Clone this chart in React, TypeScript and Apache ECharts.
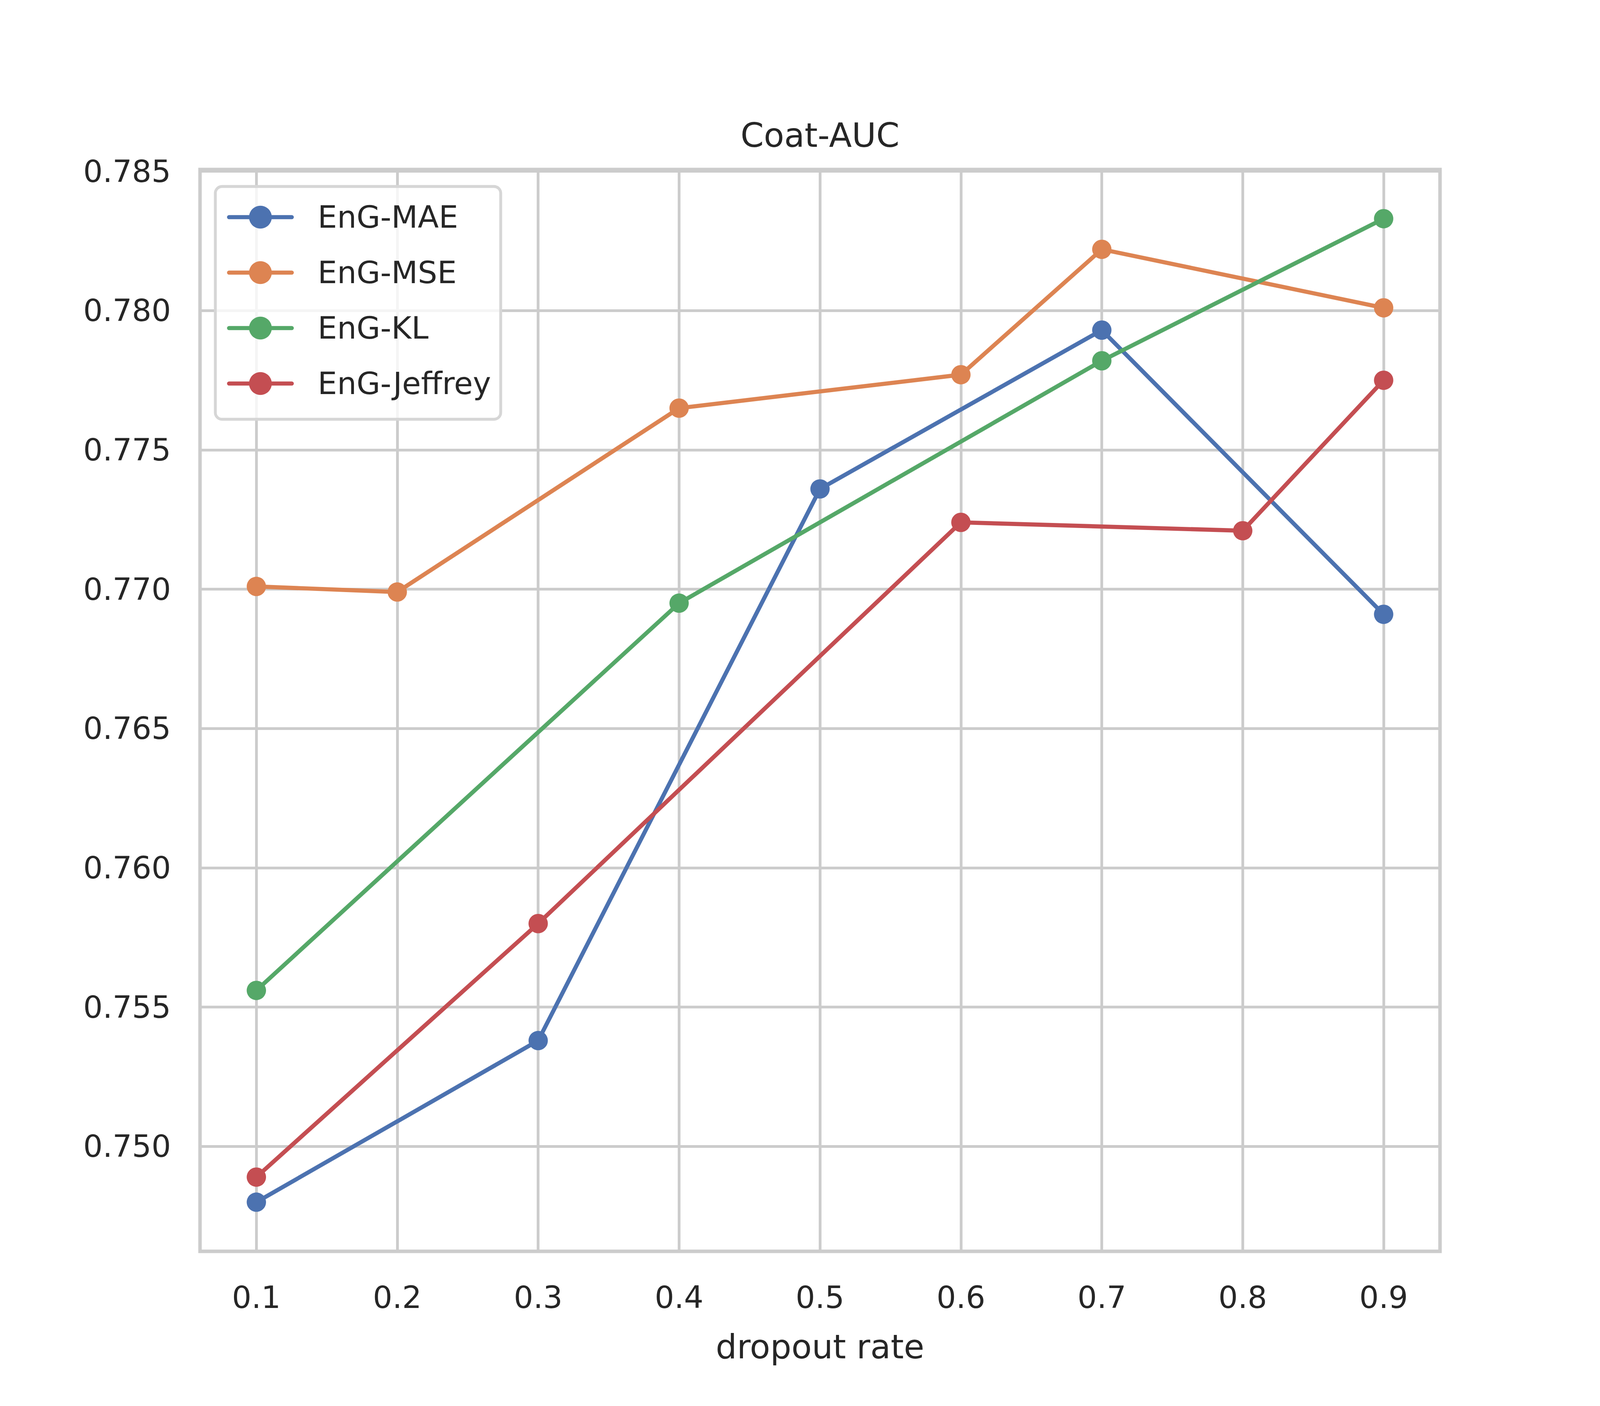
import React, { useEffect, useRef } from "react";
import * as echarts from "echarts";

const FONT = "DejaVu Sans";
const TEXT = "#262626";
const GRIDC = "#cccccc";

const seriesNames = ["EnG-MAE", "EnG-MSE", "EnG-KL", "EnG-Jeffrey"];
const colors = ["#4C72B0", "#DD8452", "#55A868", "#C44E52"];

const maeX = [0.1, 0.3, 0.5, 0.7, 0.9];
const maeY = [0.748, 0.7538, 0.7736, 0.7793, 0.7691];
const mseX = [0.1, 0.2, 0.4, 0.6, 0.7, 0.9];
const mseY = [0.7701, 0.7699, 0.7765, 0.7777, 0.7822, 0.7801];
const klX = [0.1, 0.4, 0.7, 0.9];
const klY = [0.7556, 0.7695, 0.7782, 0.7833];
const jefX = [0.1, 0.3, 0.6, 0.8, 0.9];
const jefY = [0.7489, 0.758, 0.7724, 0.7721, 0.7775];

const xs = [maeX, mseX, klX, jefX];
const ys = [maeY, mseY, klY, jefY];

const X_MIN = 0.06;
const X_MAX = 0.94;
const Y_MIN = 0.746235;
const Y_MAX = 0.785065;

export default function App() {
  const ref = useRef<HTMLDivElement>(null);
  useEffect(() => {
    const el = ref.current;
    if (!el) return;
    const w = el.clientWidth || window.innerWidth;
    const h = el.clientHeight || window.innerHeight;
    const sx = w / 4800;
    const sy = h / 3600;
    const s = Math.min(sx, sy);
    const px = (v: number) => v * sx;
    const py = (v: number) => v * sy;
    const p = (v: number) => v * s;
    const chart = echarts.init(el, null, { renderer: "svg" });
    const series = seriesNames.map((name, i) => ({
      name,
      type: "line",
      data: xs[i].map((x, k) => [x, ys[i][k]]),
      symbol: "circle",
      symbolSize: p(58),
      lineStyle: { color: colors[i], width: p(12.5), cap: "round", join: "round" },
      itemStyle: { color: colors[i], borderWidth: 0 },
      emphasis: { disabled: true },
    }));
    const itemH = py(73);
    chart.setOption({
      animation: false,
      backgroundColor: "#ffffff",
      textStyle: { fontFamily: FONT },
      title: {
        text: "Coat-AUC",
        left: px(2460),
        top: py(346) - p(50),
        padding: 0,
        textAlign: "center",
        textStyle: {
          fontFamily: FONT,
          fontSize: p(100),
          lineHeight: p(100),
          fontWeight: "normal",
          color: TEXT,
        },
      },
      grid: {
        left: px(600),
        top: py(434),
        width: px(3720),
        height: py(2770),
        show: true,
        borderColor: GRIDC,
        borderWidth: p(10.4),
        backgroundColor: "transparent",
      },
      legend: {
        orient: "vertical",
        left: px(646),
        top: py(477.5),
        padding: [py(39), px(29), py(52), px(35)],
        itemWidth: px(188),
        itemHeight: itemH,
        itemGap: py(136) - itemH,
        backgroundColor: "rgba(255,255,255,0.8)",
        borderColor: "#d6d6d6",
        borderWidth: p(8.5),
        borderRadius: p(20),
        lineStyle: { width: p(12.5), cap: "round" },
        textStyle: {
          fontFamily: FONT,
          fontSize: p(92),
          lineHeight: itemH,
          color: TEXT,
          padding: [0, 0, 0, px(72)],
        },
        data: seriesNames,
      },
      xAxis: {
        type: "value",
        min: X_MIN,
        max: X_MAX,
        splitNumber: 9,
        minInterval: 0.1,
        maxInterval: 0.1,
        axisLine: { show: false },
        axisTick: { show: false },
        splitLine: { show: true, lineStyle: { color: GRIDC, width: p(8.3) } },
        axisLabel: {
          formatter: (v: number) => v.toFixed(1),
          fontFamily: FONT,
          fontSize: p(92),
          lineHeight: p(92),
          color: TEXT,
          margin: py(3322 - 3204) - p(46),
          showMinLabel: false,
          showMaxLabel: false,
        },
        name: "dropout rate",
        nameLocation: "middle",
        nameGap: py(3448 - 3204) - p(50),
        nameTextStyle: {
          fontFamily: FONT,
          fontSize: p(100),
          lineHeight: p(100),
          color: TEXT,
        },
      },
      yAxis: {
        type: "value",
        min: Y_MIN,
        max: Y_MAX,
        splitNumber: 8,
        minInterval: 0.005,
        maxInterval: 0.005,
        axisLine: { show: false },
        axisTick: { show: false },
        splitLine: { show: true, lineStyle: { color: GRIDC, width: p(8.3) } },
        axisLabel: {
          formatter: (v: number) => v.toFixed(3),
          fontFamily: FONT,
          fontSize: p(92),
          lineHeight: p(92),
          color: TEXT,
          margin: px(87),
          showMinLabel: false,
          showMaxLabel: false,
        },
      },
      series,
    });
    return () => chart.dispose();
  }, []);
  return (
    <div
      ref={ref}
      style={{ position: "fixed", left: 0, top: 0, width: "100vw", height: "100vh" }}
    />
  );
}
